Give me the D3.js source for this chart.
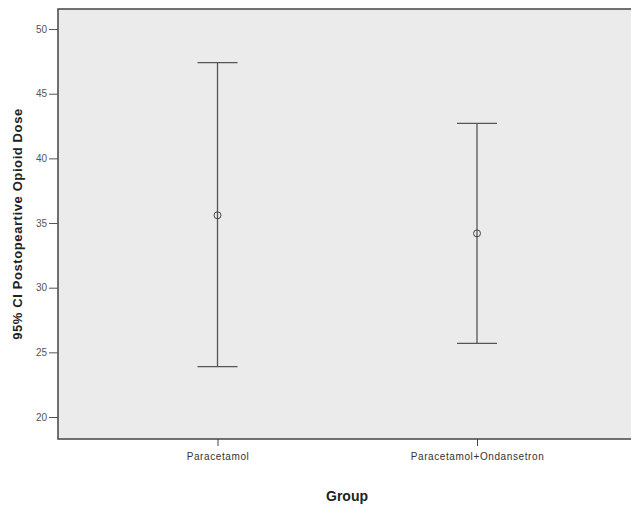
<!DOCTYPE html>
<html><head><meta charset="utf-8">
<script src="https://cdn.jsdelivr.net/npm/d3@7"></script>
<style>body{margin:0;background:#fff}svg{display:block}</style>
</head><body>
<script>
const categories = ["Paracetamol", "Paracetamol+Ondansetron"];
const means = [35.6, 34.2];
const lower = [23.9, 25.7];
const upper = [47.4, 42.7];
const yTicks = [20, 25, 30, 35, 40, 45, 50];

const W = 631, H = 507;
const m = {left: 58, top: 9, right: 0, bottom: 68};
const svg = d3.select("body").append("svg").attr("width", W).attr("height", H);
const FONT = "Liberation Sans, Arial, sans-serif";

const y = d3.scaleLinear().domain([18.3, 51.55]).range([H - m.bottom, m.top]);
const x = d3.scalePoint().domain(categories).range([217.5, 477]);

svg.append("rect").attr("x", m.left).attr("y", m.top)
  .attr("width", W - m.left + 2).attr("height", H - m.bottom - m.top)
  .attr("fill", "#ebebeb").attr("stroke", "#444").attr("stroke-width", 1.5);

const ya = svg.append("g").attr("transform", `translate(${m.left},0)`)
  .call(d3.axisLeft(y).tickValues(yTicks).tickSize(9).tickPadding(2));
ya.select(".domain").remove();
ya.selectAll("line").attr("stroke", "#555");
ya.selectAll("text").attr("font-family", FONT).attr("font-size", 10).attr("fill", "#555");

const xa = svg.append("g").attr("transform", `translate(0,${H - m.bottom})`)
  .call(d3.axisBottom(x).tickSize(7).tickPadding(7));
xa.select(".domain").remove();
xa.selectAll("line").attr("stroke", "#444");
xa.selectAll("text").attr("font-family", FONT).attr("font-size", 10)
  .attr("letter-spacing", 0.6).attr("fill", "#333");

const g = svg.append("g");
categories.forEach((c, i) => {
  const cx = x(c);
  g.append("line").attr("x1", cx).attr("x2", cx).attr("y1", y(upper[i])).attr("y2", y(lower[i]))
    .attr("stroke", "#555").attr("stroke-width", 1.3);
  [upper[i], lower[i]].forEach(v => {
    g.append("line").attr("x1", cx - 20).attr("x2", cx + 20).attr("y1", y(v)).attr("y2", y(v))
      .attr("stroke", "#555").attr("stroke-width", 1.3);
  });
  g.append("circle").attr("cx", cx).attr("cy", y(means[i])).attr("r", 3.5)
    .attr("fill", "none").attr("stroke", "#444").attr("stroke-width", 1);
});

svg.append("text").attr("transform", `translate(22,${(m.top + H - m.bottom) / 2}) rotate(-90)`)
  .attr("text-anchor", "middle").attr("font-family", FONT)
  .attr("font-weight", "bold").attr("font-size", 13).attr("letter-spacing", 0.6).attr("fill", "#222")
  .text("95% CI Postopeartive Opioid Dose");

svg.append("text").attr("x", 347).attr("y", 501).attr("text-anchor", "middle")
  .attr("font-family", FONT)
  .attr("font-weight", "bold").attr("font-size", 14).attr("fill", "#222").text("Group");
</script>
</body></html>
